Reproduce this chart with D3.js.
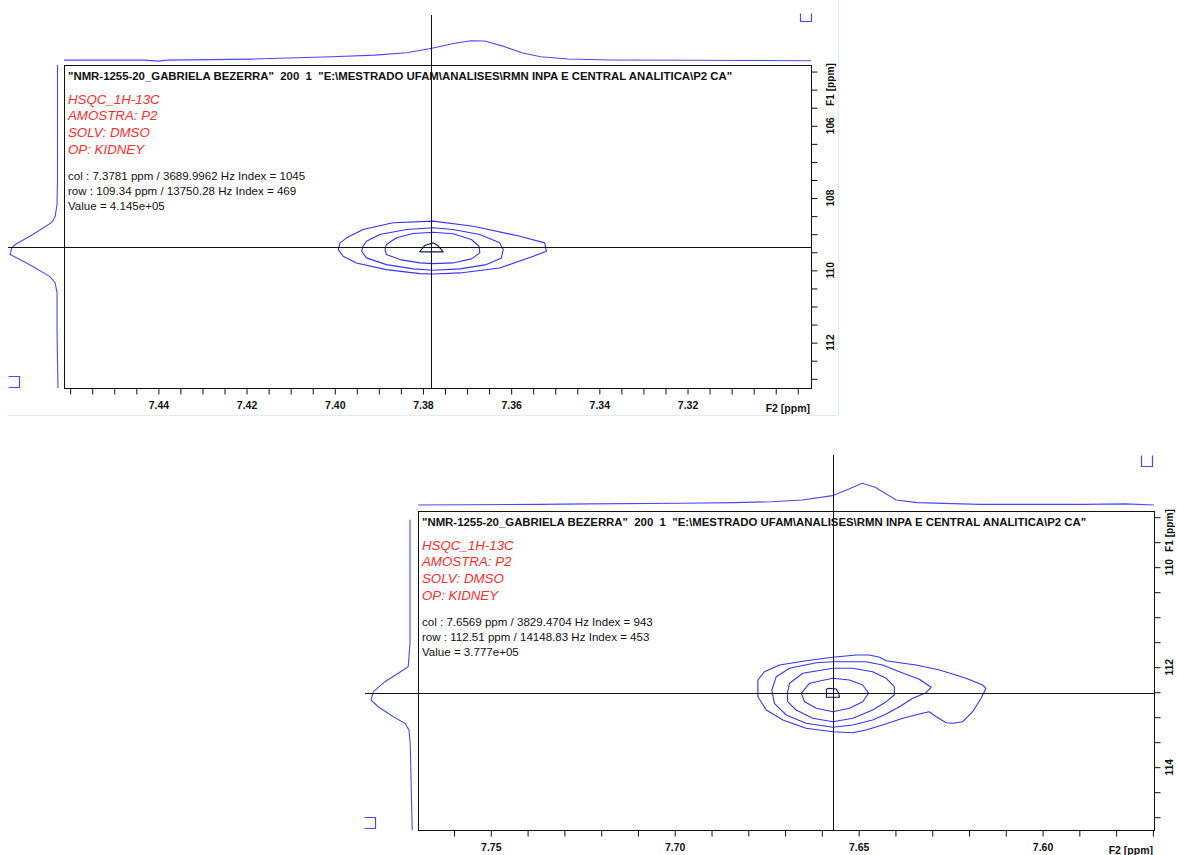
<!DOCTYPE html>
<html>
<head>
<meta charset="utf-8">
<script src="https://cdn.jsdelivr.net/npm/d3@7"></script>
<style>
  body { margin: 0; background: #fff; }
  svg { display: block; }
  text { font-family: "Liberation Sans", Arial, sans-serif; }
</style>
</head>
<body>
<svg id="chart" width="1177" height="855"></svg>
<script>
// ---------- spectrum header ----------
const titleLine = '"NMR-1255-20_GABRIELA BEZERRA"  200  1  "E:\\MESTRADO UFAM\\ANALISES\\RMN INPA E CENTRAL ANALITICA\\P2 CA"';
const parameterLines = ["HSQC_1H-13C", "AMOSTRA: P2", "SOLV: DMSO", "OP: KIDNEY"];

// ---------- panel A : cursor readout ----------
const cursorColA = [7.3781, 3689.9962, 1045];   // ppm, Hz, index (F2)
const cursorRowA = [109.34, 13750.28, 469];     // ppm, Hz, index (F1)
const cursorValueA = 4.145e5;

// axis windows (ppm) and labelled ticks
const f2DomainA = [7.4614, 7.2920];
const f1DomainA = [104.318, 113.255];
const f2LabelsA = [7.44, 7.42, 7.40, 7.38, 7.36, 7.34, 7.32];
const f1LabelsA = [106, 108, 110, 112];

// contour levels, outer to inner: [F2 ppm, F1 ppm]
const contourA1 = [[7.3988,109.239],[7.3992,109.425],[7.3981,109.611],[7.3951,109.794],[7.3883,109.980],[7.3807,110.091],[7.3777,110.099],[7.3716,110.071],[7.3626,109.933],[7.3550,109.611],[7.3520,109.472],[7.3524,109.239],[7.3580,109.056],[7.3686,108.778],[7.3777,108.639],[7.3868,108.684],[7.3936,108.870],[7.3973,109.100]];
const contourA2 = [[7.3936,109.333],[7.3939,109.472],[7.3928,109.655],[7.3883,109.841],[7.3822,109.960],[7.3777,109.999],[7.3716,109.960],[7.3656,109.841],[7.3622,109.655],[7.3618,109.425],[7.3626,109.239],[7.3671,109.008],[7.3732,108.870],[7.3777,108.822],[7.3837,108.870],[7.3898,109.008],[7.3928,109.194]];
const contourA3 = [[7.3886,109.425],[7.3883,109.563],[7.3852,109.702],[7.3807,109.794],[7.3777,109.813],[7.3732,109.794],[7.3690,109.683],[7.3671,109.516],[7.3673,109.333],[7.3690,109.147],[7.3732,108.989],[7.3777,108.944],[7.3822,108.981],[7.3860,109.100],[7.3883,109.286]];
const contourA4 = [[7.3807,109.472],[7.3796,109.314],[7.3777,109.239],[7.3766,109.314],[7.3754,109.488],[7.3807,109.488]];

// 1D projections: [ppm, relative intensity]
const projF2A = [[7.4614,0.02],[7.4431,0.02],[7.4400,-0.03],[7.4380,0.02],[7.4188,0.07],[7.4086,0.14],[7.4007,0.19],[7.3909,0.27],[7.3837,0.39],[7.3780,0.61],[7.3728,0.86],[7.3691,0.99],[7.3660,0.975],[7.3619,0.72],[7.3576,0.39],[7.3533,0.19],[7.3471,0.075],[7.3374,0.025],[7.3181,0.01],[7.3082,0.0],[7.2920,-0.01]];
const projF1A = [[104.318,0],[107.482,0],[108.176,0.01],[108.509,0.05],[108.675,0.12],[109.008,0.52],[109.286,0.89],[109.369,0.96],[109.563,1.0],[109.702,0.79],[109.896,0.52],[110.174,0.16],[110.341,0.05],[110.618,0.01],[111.645,0.01],[113.255,-0.01]];

// ---------- panel B : cursor readout ----------
const cursorColB = [7.6569, 3829.4704, 943];
const cursorRowB = [112.51, 14148.83, 453];
const cursorValueB = 3.777e5;

const f2DomainB = [7.7698, 7.5697];
const f1DomainB = [108.876, 115.256];
const f2LabelsB = [7.75, 7.70, 7.65, 7.60];
const f1LabelsB = [110, 112, 114];

const contourB1 = [[7.6774,112.256],[7.6756,112.090],[7.6715,111.956],[7.6643,111.870],[7.6570,111.802],[7.6507,111.756],[7.6471,111.756],[7.6443,111.802],[7.6425,111.870],[7.6389,111.910],[7.6344,111.956],[7.6280,112.056],[7.6208,112.222],[7.6163,112.356],[7.6154,112.422],[7.6167,112.622],[7.6190,112.890],[7.6217,113.090],[7.6244,113.122],[7.6262,113.110],[7.6289,112.990],[7.6308,112.890],[7.6335,112.936],[7.6380,113.022],[7.6435,113.156],[7.6480,113.256],[7.6516,113.310],[7.6570,113.290],[7.6643,113.222],[7.6706,113.056],[7.6751,112.856],[7.6774,112.590]];
const contourB2 = [[7.6736,112.456],[7.6724,112.190],[7.6688,112.022],[7.6615,111.910],[7.6570,111.890],[7.6480,111.890],[7.6435,111.956],[7.6389,112.090],[7.6335,112.242],[7.6303,112.402],[7.6317,112.510],[7.6353,112.622],[7.6389,112.790],[7.6425,112.936],[7.6462,113.056],[7.6516,113.156],[7.6570,113.202],[7.6643,113.122],[7.6697,112.956],[7.6729,112.722]];
const contourB3 = [[7.6694,112.522],[7.6688,112.322],[7.6652,112.122],[7.6570,112.022],[7.6516,112.022],[7.6462,112.090],[7.6425,112.222],[7.6403,112.390],[7.6403,112.556],[7.6425,112.690],[7.6462,112.856],[7.6516,113.022],[7.6570,113.090],[7.6625,113.022],[7.6670,112.856],[7.6693,112.690]];
const contourB4 = [[7.6656,112.522],[7.6634,112.322],[7.6570,112.222],[7.6525,112.256],[7.6489,112.356],[7.6473,112.522],[7.6489,112.690],[7.6525,112.822],[7.6570,112.890],[7.6615,112.822],[7.6647,112.690]];
const contourB5 = [[7.6588,112.442],[7.6581,112.422],[7.6561,112.436],[7.6554,112.522],[7.6552,112.602],[7.6588,112.602],[7.6587,112.522]];

const projF2B = [[7.7697,0.0],[7.7368,0.03],[7.7233,0.05],[7.6979,0.08],[7.6837,0.11],[7.6738,0.15],[7.6653,0.23],[7.6571,0.43],[7.6533,0.69],[7.6490,1.0],[7.6455,0.82],[7.6398,0.23],[7.6341,0.11],[7.6171,0.03],[7.5888,0.03],[7.5775,0.05],[7.5697,0.0]];
const projF1B = [[109.05,0.025],[111.522,0.025],[111.99,0.07],[112.122,0.32],[112.29,0.65],[112.49,0.94],[112.656,1.0],[112.79,0.82],[112.99,0.44],[113.122,0.15],[113.256,0.05],[113.522,0.02],[114.19,0],[115.256,-0.03]];

// ---------- styling ----------
const contourBlue = "#3535f0";
const innerLevel = "#16166a";
const projBlue = "#4a4af4";
const noteRed = "#ff2b2b";

const svg = d3.select("#chart");

function sci(v) {
  return v.toExponential(3).replace(/e([+-])(\d)$/, (m, s, d) => "e" + s + "0" + d);
}

function stepTicks(domain, step) {
  const lo = Math.min(...domain), hi = Math.max(...domain);
  const out = [];
  for (let k = Math.ceil(lo / step - 1e-9); k * step <= hi + 1e-9; k++) out.push(+(k * step).toFixed(4));
  return out;
}

function drawPanel(p) {
  const g = svg.append("g");
  const x = d3.scaleLinear().domain(p.f2Domain).range([p.box.left, p.box.right]);
  const y = d3.scaleLinear().domain(p.f1Domain).range([p.box.top, p.box.bottom]);
  const projY = d3.scaleLinear().domain([0, 1]).range(p.topProjRange);
  const projX = d3.scaleLinear().domain([0, 1]).range(p.leftProjRange);

  // outer frame of the plot
  g.append("rect")
    .attr("x", p.box.left + 0.5).attr("y", p.box.top + 0.5)
    .attr("width", p.box.right - p.box.left).attr("height", p.box.bottom - p.box.top)
    .attr("fill", "none").attr("stroke", "#111").attr("stroke-width", 1);

  // F2 axis (bottom)
  const near = (arr, d) => arr.some(l => Math.abs(l - d) < 1e-6);
  const xAxis = g.append("g").attr("transform", `translate(0,${p.box.bottom + 0.5})`)
    .call(d3.axisBottom(x).tickValues(stepTicks(p.f2Domain, p.f2Step)).tickSize(6).tickPadding(7)
      .tickFormat(d => near(p.f2Labels, d) ? d.toFixed(2) : ""));
  xAxis.select(".domain").remove();
  xAxis.selectAll("line").attr("stroke", "#111");
  xAxis.selectAll("text").attr("fill", "#111").attr("font-size", 10.5).attr("font-weight", "bold")
    .attr("font-family", '"Liberation Sans", Arial, sans-serif');
  g.append("text").attr("x", p.box.right - 1).attr("y", p.box.bottom + 24)
    .attr("text-anchor", "end").attr("font-size", 10.5).attr("font-weight", "bold").attr("fill", "#111")
    .text("F2 [ppm]");

  // F1 axis (right)
  const yAxis = g.append("g").attr("transform", `translate(${p.box.right + 0.5},0)`)
    .call(d3.axisRight(y).tickValues(stepTicks(p.f1Domain, 0.5)).tickSize(6).tickFormat(""));
  yAxis.select(".domain").remove();
  yAxis.selectAll("line").attr("stroke", "#111");
  g.selectAll(null).data(p.f1Labels).join("text")
    .attr("transform", d => `translate(${p.box.right + p.labelGap},${y(d)}) rotate(-90)`)
    .attr("text-anchor", "middle").attr("font-size", 10.2).attr("font-weight", "bold").attr("fill", "#111")
    .text(d => d);
  g.append("text")
    .attr("transform", `translate(${p.box.right + p.labelGap},${p.box.top - 2}) rotate(-90)`)
    .attr("text-anchor", "end").attr("font-size", 10.2).attr("font-weight", "bold").attr("fill", "#111")
    .text("F1 [ppm]");

  // 1D projections
  g.append("path").datum(p.projF2)
    .attr("d", d3.line().x(d => x(d[0])).y(d => projY(d[1])))
    .attr("fill", "none").attr("stroke", projBlue).attr("stroke-width", 1.1);
  g.append("path").datum(p.projF1)
    .attr("d", d3.line().x(d => projX(d[1])).y(d => y(d[0])))
    .attr("fill", "none").attr("stroke", projBlue).attr("stroke-width", 1.1);

  // contour levels
  const ring = d3.line().x(d => x(d[0])).y(d => y(d[1])).curve(d3.curveLinearClosed);
  p.contours.forEach((c, i) => {
    g.append("path").datum(c).attr("d", ring)
      .attr("fill", "none")
      .attr("stroke", i === p.contours.length - 1 ? innerLevel : contourBlue)
      .attr("stroke-width", 1.1).attr("stroke-linejoin", "round");
  });

  // cursor cross
  const cx = Math.round(x(p.col[0])) + 0.5, cy = Math.round(y(p.row[0])) + 0.5;
  g.append("line").attr("x1", cx).attr("x2", cx).attr("y1", p.crossTop).attr("y2", p.box.bottom)
    .attr("stroke", "#111").attr("stroke-width", 1);
  g.append("line").attr("x1", p.crossLeft).attr("x2", p.box.right).attr("y1", cy).attr("y2", cy)
    .attr("stroke", "#111").attr("stroke-width", 1);

  // small corner marks of the projection windows
  g.append("path")
    .attr("d", `M${p.markTop[0]},${p.markTop[1]}v${p.markTop[3]}h${p.markTop[2]}v${-p.markTop[3]}`)
    .attr("fill", "none").attr("stroke", projBlue).attr("stroke-width", 1.2);
  g.append("path")
    .attr("d", `M${p.markLeft[0]},${p.markLeft[1]}h${p.markLeft[2]}v${p.markLeft[3]}h${-p.markLeft[2]}`)
    .attr("fill", "none").attr("stroke", projBlue).attr("stroke-width", 1.2);

  // header and notes
  const tx = p.box.left + 4;
  g.append("text").attr("x", tx).attr("y", p.box.top + 15)
    .attr("font-size", 11.4).attr("font-weight", "bold").attr("fill", "#111")
    .style("white-space", "pre").text(titleLine);
  g.selectAll(null).data(parameterLines).join("text")
    .attr("x", tx).attr("y", (d, i) => p.box.top + 38.5 + i * 16.7)
    .attr("font-size", 13.3).attr("font-style", "italic").attr("fill", noteRed)
    .text(d => d);
  const info = [
    `col : ${p.col[0].toFixed(4)} ppm / ${p.col[1].toFixed(4)} Hz Index = ${p.col[2]}`,
    `row : ${p.row[0].toFixed(2)} ppm / ${p.row[1].toFixed(2)} Hz Index = ${p.row[2]}`,
    `Value = ${sci(p.value)}`
  ];
  g.selectAll(null).data(info).join("text")
    .attr("x", tx).attr("y", (d, i) => p.box.top + 114.5 + i * 15)
    .attr("font-size", 11.55).attr("fill", "#111")
    .text(d => d);
}

// faint border of the first spectrum window
svg.append("path").attr("d", "M8,415.5H838.5V0")
  .attr("fill", "none").attr("stroke", "#e4eaf2").attr("stroke-width", 1);

drawPanel({
  box: { left: 64, right: 811, top: 65, bottom: 388 },
  f2Domain: f2DomainA, f1Domain: f1DomainA, f2Step: 0.005,
  f2Labels: f2LabelsA, f1Labels: f1LabelsA, labelGap: 23,
  contours: [contourA1, contourA2, contourA3, contourA4],
  projF2: projF2A, projF1: projF1A,
  topProjRange: [60.5, 40.5], leftProjRange: [57.5, 10],
  col: cursorColA, row: cursorRowA, value: cursorValueA,
  crossTop: 15, crossLeft: 8,
  markTop: [800.5, 13.5, 11, 8], markLeft: [8.5, 376.5, 11, 11]
});

drawPanel({
  box: { left: 418, right: 1154, top: 511, bottom: 830 },
  f2Domain: f2DomainB, f1Domain: f1DomainB, f2Step: 0.01,
  f2Labels: f2LabelsB, f1Labels: f1LabelsB, labelGap: 19,
  contours: [contourB1, contourB2, contourB3, contourB4, contourB5],
  projF2: projF2B, projF1: projF1B,
  topProjRange: [505, 483.3], leftProjRange: [411, 371],
  col: cursorColB, row: cursorRowB, value: cursorValueB,
  crossTop: 455, crossLeft: 365,
  markTop: [1141.5, 455.5, 11, 11], markLeft: [364.5, 817.5, 11, 11]
});
</script>
</body>
</html>
